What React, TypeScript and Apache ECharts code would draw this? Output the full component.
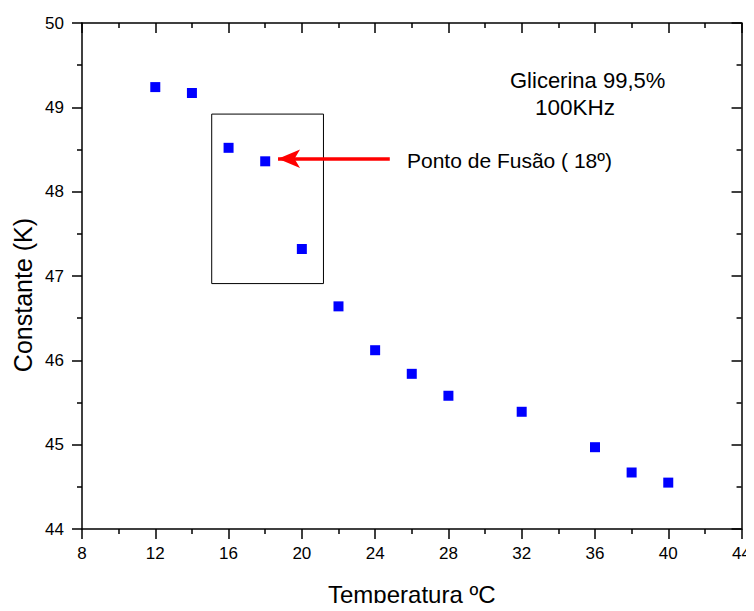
import React, { useEffect, useRef } from "react";
import * as echarts from "echarts";

const temperatures = [12, 14, 16, 18, 20, 22, 24, 26, 28, 32, 36, 38, 40];
const constants = [49.24, 49.17, 48.52, 48.36, 47.32, 46.64, 46.12, 45.84, 45.58, 45.39, 44.97, 44.67, 44.55];
const boxX = [15.08, 21.18];
const boxY = [46.91, 48.92];
const arrowFrom = [24.8, 48.39];
const arrowTo = [18.7, 48.39];
const titleLines = ["Glicerina 99,5%", "100KHz"];
const arrowLabel = "Ponto de Fusão ( 18º)";
const xName = "Temperatura ºC";
const yName = "Constante (K)";

const FONT = "'Liberation Sans', Arial, sans-serif";

export default function App() {
  const ref = useRef<HTMLDivElement>(null);
  useEffect(() => {
    if (!ref.current) return;
    const chart = echarts.init(ref.current, undefined, { renderer: "svg" });
    const axisLine = { show: true, lineStyle: { color: "#000", width: 1.5 } };
    const tickStyle = { color: "#000", width: 1.5 };
    const boxData = [
      [boxX[0], boxY[1]],
      [boxX[1], boxY[1]],
      [boxX[1], boxY[0]],
      [boxX[0], boxY[0]],
      [boxX[0], boxY[1]],
    ];
    chart.setOption({
      animation: false,
      backgroundColor: "#fff",
      grid: { left: 82, right: 12, top: 23, bottom: 76, containLabel: false },
      xAxis: [
        {
          type: "value", min: 8, max: 44, interval: 4, position: "bottom",
          axisLine,
          axisTick: { show: true, inside: false, length: 10, lineStyle: tickStyle },
          minorTick: { show: true, splitNumber: 2, length: 5, lineStyle: tickStyle },
          splitLine: { show: false },
          axisLabel: { color: "#000", fontSize: 17, fontFamily: FONT, margin: 16 },
          name: xName, nameLocation: "middle", nameGap: 53,
          nameTextStyle: { color: "#000", fontSize: 24, fontFamily: FONT },
        },
        {
          type: "value", min: 8, max: 44, interval: 4, position: "top",
          axisLine,
          axisTick: { show: true, inside: true, length: 10, lineStyle: tickStyle },
          minorTick: { show: true, splitNumber: 2, length: 5, lineStyle: tickStyle },
          splitLine: { show: false }, axisLabel: { show: false },
        },
      ],
      yAxis: [
        {
          type: "value", min: 44, max: 50, interval: 1, position: "left",
          axisLine,
          axisTick: { show: true, inside: false, length: 10, lineStyle: tickStyle },
          minorTick: { show: true, splitNumber: 2, length: 5, lineStyle: tickStyle },
          splitLine: { show: false },
          axisLabel: { color: "#000", fontSize: 17, fontFamily: FONT, margin: 18 },
        },
        {
          type: "value", min: 44, max: 50, interval: 1, position: "right",
          axisLine,
          axisTick: { show: true, inside: true, length: 10, lineStyle: tickStyle },
          minorTick: { show: true, splitNumber: 2, length: 5, lineStyle: tickStyle },
          splitLine: { show: false }, axisLabel: { show: false },
        },
      ],
      series: [
        {
          type: "scatter",
          data: temperatures.map((t, i) => [t, constants[i]]),
          symbol: "rect", symbolSize: 10,
          itemStyle: { color: "#0000ff", opacity: 1 },
          z: 5,
        },
        {
          type: "line",
          data: boxData,
          symbol: "none",
          lineStyle: { color: "#000", width: 1 },
          silent: true,
          markLine: {
            silent: true,
            symbol: ["none", "arrow"],
            symbolSize: [14, 22],
            label: { show: false },
            lineStyle: { color: "#ff0000", width: 3.5, type: "solid" },
            data: [[{ coord: arrowFrom }, { coord: arrowTo }]],
          },
        },
      ],
      graphic: [
        {
          type: "text", left: 510, top: 69,
          style: { text: titleLines[0], font: `22px ${FONT}`, fill: "#000" },
        },
        {
          type: "text", left: 535, top: 96,
          style: { text: titleLines[1], font: `22.5px ${FONT}`, fill: "#000" },
        },
        {
          type: "text", left: 407, top: 150,
          style: { text: arrowLabel, font: `21px ${FONT}`, fill: "#000" },
        },
        {
          type: "text", x: 22.5, y: 295, rotation: Math.PI / 2,
          style: { text: yName, font: `25px ${FONT}`, fill: "#000", align: "center", verticalAlign: "middle" },
        },
      ],
    });
    return () => chart.dispose();
  }, []);
  return <div ref={ref} style={{ width: 754, height: 611, margin: -8 }} />;
}
